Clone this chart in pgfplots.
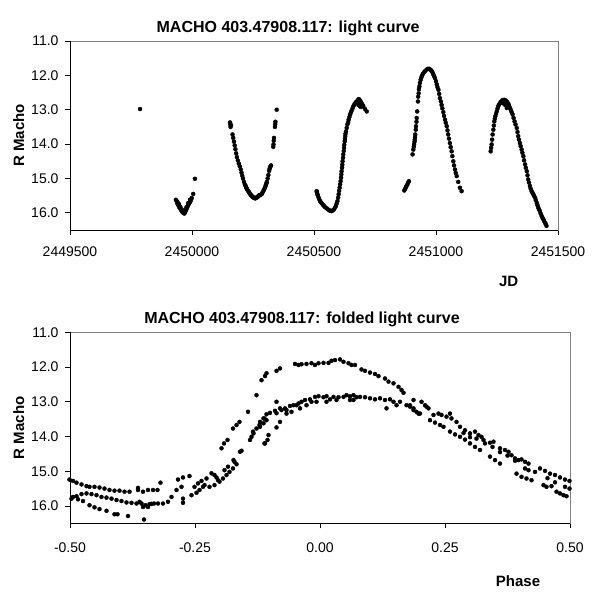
\documentclass[border=0pt]{standalone}
\usepackage{pgfplots}
\usepackage{pgfplotstable}
\pgfplotsset{compat=1.18}
\usepackage{fontspec}
\setmainfont{Liberation Sans}

% top light curve: x = JD - 2449500, y = R Macho
\pgfplotstableread{
jd mag
287 12.98
434 15.62
437 15.66
440 15.72
442 15.76
445 15.79
448 15.84
451 15.87
454 15.90
457 15.94
460 15.97
463 15.99
466 16.01
469 16.02
472 15.98
475 15.93
478 15.88
481 15.83
484 15.78
487 15.74
490 15.71
493 15.67
496 15.62
499 15.57
505 15.45
512 15.01
440 15.68
446 15.74
452 15.82
458 15.90
470 15.95
477 15.84
484 15.72
492 15.62
656 13.37
657 13.43
658 13.50
660 13.45
666 13.72
669 13.82
672 13.93
675 14.04
678 14.15
681 14.27
684 14.38
688 14.48
692 14.57
696 14.65
700 14.74
703 14.83
706 14.92
709 15.00
713 15.10
717 15.18
720 15.22
722 15.26
724 15.29
726 15.32
729 15.35
731 15.37
734 15.40
736 15.43
739 15.46
741 15.48
744 15.50
746 15.52
749 15.54
751 15.55
754 15.56
756 15.57
759 15.58
761 15.57
764 15.56
766 15.55
769 15.54
771 15.52
774 15.50
776 15.49
780 15.48
783 15.47
786 15.45
789 15.41
792 15.37
795 15.33
798 15.28
801 15.23
803 15.18
805 15.14
807 15.10
810 15.00
813 14.90
816 14.78
818 14.72
820 14.68
822 14.64
824 14.62
833 14.08
834 14.01
835 13.90
836 13.82
840 13.50
841 13.42
842 13.35
847 13.00
1011 15.37
1012 15.40
1014 15.46
1016 15.50
1019 15.56
1022 15.61
1025 15.66
1029 15.70
1033 15.73
1037 15.77
1041 15.80
1046 15.84
1052 15.87
1057 15.90
1063 15.93
1068 15.94
1072 15.95
1077 15.93
1082 15.90
1086 15.85
1090 15.80
1093 15.73
1096 15.66
1099 15.56
1101 15.46
1103 15.36
1105 15.27
1107 15.17
1109 15.08
1111 14.98
1112 14.88
1113 14.79
1115 14.69
1116 14.60
1117 14.50
1119 14.40
1120 14.30
1122 14.20
1123 14.11
1124 14.02
1126 13.92
1127 13.85
1128 13.77
1129 13.70
1131 13.63
1134 13.53
1137 13.43
1140 13.36
1142 13.29
1145 13.21
1148 13.14
1151 13.08
1154 13.03
1158 12.96
1161 12.90
1165 12.85
1169 12.81
1173 12.77
1178 12.74
1181 12.71
1184 12.69
1187 12.72
1191 12.76
1194 12.80
1197 12.84
1200 12.87
1202 12.90
1182 12.86
1185 12.83
1188 12.90
1193 12.92
1209 12.98
1216 13.05
1370 15.35
1374 15.30
1377 15.25
1380 15.21
1383 15.17
1386 15.12
1389 15.08
1404 14.30
1407 14.16
1409 14.08
1410 14.01
1412 13.93
1413 13.87
1414 13.80
1415 13.72
1417 13.58
1418 13.48
1420 13.35
1421 13.24
1423 13.05
1426 12.76
1427 12.62
1429 12.52
1430 12.40
1432 12.32
1434 12.22
1437 12.13
1440 12.06
1443 12.00
1447 11.95
1451 11.91
1456 11.87
1462 11.83
1467 11.81
1473 11.81
1478 11.84
1482 11.87
1486 11.92
1489 11.97
1492 12.02
1496 12.08
1500 12.17
1503 12.26
1506 12.34
1510 12.42
1513 12.54
1516 12.66
1520 12.76
1523 12.86
1526 12.96
1530 13.07
1533 13.18
1537 13.29
1540 13.38
1544 13.48
1547 13.60
1550 13.72
1553 13.84
1557 13.97
1560 14.09
1564 14.21
1567 14.35
1571 14.50
1574 14.62
1578 14.74
1581 14.84
1585 14.93
1591 15.10
1598 15.27
1605 15.37
1724 14.21
1726 14.11
1728 14.01
1730 13.87
1732 13.72
1735 13.58
1737 13.46
1739 13.34
1741 13.26
1743 13.19
1746 13.12
1749 13.05
1752 12.97
1755 12.90
1758 12.85
1762 12.81
1766 12.77
1770 12.74
1774 12.72
1779 12.71
1783 12.72
1787 12.74
1791 12.77
1795 12.81
1798 12.85
1800 12.90
1803 12.95
1806 13.00
1810 13.07
1814 13.14
1818 13.24
1822 13.34
1826 13.43
1831 13.53
1834 13.65
1837 13.77
1840 13.87
1844 13.97
1847 14.06
1851 14.16
1854 14.25
1858 14.35
1861 14.47
1865 14.59
1868 14.69
1872 14.79
1875 14.91
1878 15.03
1881 15.12
1885 15.22
1888 15.30
1892 15.37
1895 15.41
1899 15.46
1902 15.51
1906 15.56
1909 15.63
1913 15.71
1916 15.78
1919 15.85
1922 15.90
1926 15.95
1929 16.02
1933 16.09
1936 16.14
1940 16.19
1943 16.24
1947 16.29
1950 16.33
1953 16.38
1773 12.81
1783 12.86
1790 12.95
1778 12.77
}\lightdata

% folded light curve: phase, R Macho
\pgfplotstableread{
phase mag
-0.501 15.24
-0.494 15.28
-0.487 15.33
-0.477 15.38
-0.467 15.43
-0.461 15.45
-0.451 15.45
-0.441 15.47
-0.431 15.50
-0.421 15.54
-0.411 15.56
-0.401 15.56
-0.391 15.59
-0.381 15.59
-0.364 15.54
-0.364 15.48
-0.354 15.59
-0.344 15.54
-0.334 15.54
-0.325 15.54
-0.319 15.33
-0.497 15.79
-0.487 15.72
-0.477 15.66
-0.467 15.64
-0.457 15.66
-0.447 15.69
-0.437 15.74
-0.427 15.76
-0.417 15.79
-0.407 15.83
-0.397 15.86
-0.387 15.90
-0.377 15.91
-0.367 15.93
-0.357 15.93
-0.349 15.98
-0.341 15.95
-0.332 15.93
-0.324 15.93
-0.314 15.93
-0.304 15.88
-0.354 16.03
-0.344 16.03
-0.337 15.94
-0.361 15.88
-0.494 15.74
-0.484 15.81
-0.474 15.86
-0.461 15.98
-0.451 16.04
-0.441 16.09
-0.427 16.14
-0.411 16.24
-0.405 16.24
-0.384 16.29
-0.352 16.39
-0.297 15.74
-0.287 15.54
-0.277 15.45
-0.284 15.24
-0.274 15.18
-0.261 15.14
-0.274 15.91
-0.274 15.79
-0.257 15.69
-0.247 15.62
-0.241 15.54
-0.234 15.45
-0.251 15.45
-0.244 15.35
-0.237 15.28
-0.227 15.21
-0.217 15.06
-0.211 15.11
-0.207 15.18
-0.204 15.26
-0.231 15.40
-0.221 15.45
-0.211 15.40
-0.201 15.30
-0.194 15.21
-0.187 15.11
-0.181 15.02
-0.174 14.92
-0.167 14.80
-0.191 14.97
-0.184 14.87
-0.171 14.73
-0.157 14.41
-0.197 14.34
-0.192 14.20
-0.185 14.10
-0.174 13.77
-0.167 13.67
-0.161 13.58
-0.144 13.29
-0.127 12.81
-0.137 14.01
-0.134 13.86
-0.127 13.77
-0.121 13.67
-0.111 13.48
-0.111 14.20
-0.105 14.10
-0.173 14.68
-0.160 14.44
-0.140 14.10
-0.133 13.91
-0.107 13.53
-0.087 13.33
-0.067 13.24
-0.047 13.10
-0.117 12.38
-0.110 12.26
-0.107 12.18
-0.087 12.11
-0.080 12.04
-0.050 11.91
-0.043 11.94
-0.037 11.92
-0.027 11.91
-0.017 11.89
-0.010 11.94
-0.003 11.89
0.007 11.88
0.017 11.88
0.023 11.82
0.030 11.80
0.040 11.78
0.047 11.85
0.057 11.89
0.063 11.94
0.070 11.94
0.083 12.07
0.090 12.11
0.100 12.16
0.110 12.20
0.117 12.26
0.130 12.33
0.137 12.42
0.147 12.47
0.157 12.57
0.163 12.66
0.167 12.74
-0.120 13.58
-0.113 13.48
-0.107 13.36
-0.100 13.32
-0.090 13.26
-0.080 13.19
-0.070 13.19
-0.060 13.12
-0.053 13.10
-0.043 13.05
-0.037 13.00
-0.030 12.95
-0.020 12.93
-0.017 13.00
-0.010 12.86
-0.003 12.84
0.007 12.87
0.013 12.84
0.020 12.93
0.027 12.86
0.037 12.87
0.047 12.86
0.053 12.81
0.060 12.84
0.067 12.81
0.073 12.87
0.080 12.86
0.090 12.87
0.100 12.90
0.110 12.93
0.120 12.90
0.130 12.95
0.140 12.93
0.147 13.00
0.153 13.10
0.160 13.00
0.173 13.10
0.180 13.14
0.187 13.24
0.197 13.34
-0.087 13.00
-0.077 13.24
-0.067 13.34
-0.057 13.29
-0.040 13.19
-0.027 13.10
-0.007 13.00
0.013 13.00
0.033 12.95
0.060 12.95
0.067 12.95
0.133 13.19
-0.120 13.72
-0.113 13.62
-0.080 13.58
-0.087 13.74
-0.103 13.96
-0.110 14.20
0.187 12.95
0.203 13.00
0.210 13.10
0.213 13.14
0.217 13.19
0.237 13.34
0.243 13.38
0.253 13.43
0.260 13.34
0.263 13.48
0.273 13.58
0.280 13.72
0.290 13.82
0.300 13.91
0.310 13.86
0.317 13.96
0.323 14.01
0.327 14.10
0.340 14.18
0.347 14.15
0.360 14.34
0.370 14.39
0.377 14.44
0.383 14.54
0.390 14.63
0.397 14.68
0.403 14.66
0.410 14.73
0.417 14.78
0.410 14.92
0.417 14.97
0.440 14.92
0.450 14.99
0.460 15.07
0.470 15.11
0.480 15.18
0.490 15.24
0.499 15.28
0.180 13.10
0.187 13.19
0.193 13.29
0.200 13.34
0.220 13.53
0.230 13.60
0.240 13.67
0.247 13.72
0.260 13.86
0.270 13.94
0.280 14.01
0.290 14.09
0.300 14.20
0.310 14.30
0.320 14.39
0.340 14.58
0.350 14.68
0.360 14.78
0.393 15.07
0.403 15.16
0.413 15.21
0.423 15.26
0.447 15.40
0.453 15.45
0.463 15.43
0.473 15.59
0.480 15.64
0.487 15.69
0.493 15.72
0.490 15.45
0.499 15.50
0.227 13.38
0.287 13.90
0.300 14.02
0.313 14.06
0.330 14.20
0.345 14.30
0.360 14.45
0.375 14.55
0.390 14.70
0.430 15.02
0.455 15.20
0.470 15.32
}\foldeddata

\pgfplotsset{
  mcstyle/.style={
    scale only axis,
    y dir=reverse,
    ymin=11, ymax=16.5,
    ytick={11,12,13,14,15,16},
    yticklabel style={/pgf/number format/fixed, /pgf/number format/fixed zerofill, /pgf/number format/precision=1, xshift=-3pt},
    /pgf/number format/assume math mode=true,
    tick align=outside,
    xtick pos=bottom, ytick pos=left,
    major tick length=5pt,
    tick style={black, line width=0.8pt},
    axis line style={draw=gray, line width=1pt},
    ticklabel style={font=\fontsize{14}{16}\selectfont},
    xticklabel style={anchor=base, yshift=-21pt},
    title style={font=\bfseries\fontsize{16}{18}\selectfont, anchor=base},
    label style={font=\bfseries\fontsize{15}{17}\selectfont},
    clip=false,
  },
}

\begin{document}
\begin{tikzpicture}[x=1pt,y=1pt]
\path[use as bounding box] (0,0) rectangle (600,600);

\begin{axis}[mcstyle,
  at={(70pt,370pt)}, anchor=south west,
  width=488pt, height=189pt,
  xmin=0, xmax=2000,
  xtick={0,500,1000,1500,2000},
  xticklabels={2449500,2450000,2450500,2451000,2451500},
  title={MACHO 403.47908.117: light curve},
  title style={at={(axis description cs:0.447,1)}, yshift=3pt},
  xlabel={JD},
  xlabel style={at={(axis description cs:0.899,0)}, anchor=base, yshift=-56.7pt},
  ylabel={R Macho},
  ylabel style={at={(axis description cs:-0.094,0.5)}, anchor=base},
]
\addplot[only marks, mark=*, mark size=2pt, black] table[x=jd, y=mag] {\lightdata};
\draw[black, line width=1pt] (axis description cs:0,1) -- (axis description cs:0,0) -- (axis description cs:1,0);
\end{axis}

\begin{axis}[mcstyle,
  at={(70pt,76.7pt)}, anchor=south west,
  width=500pt, height=191pt,
  xmin=-0.5, xmax=0.5,
  xtick={-0.5,-0.25,0,0.25,0.5},
  xticklabel style={/pgf/number format/fixed, /pgf/number format/fixed zerofill, /pgf/number format/precision=2, yshift=-3pt},
  title={MACHO 403.47908.117: folded light curve},
  title style={at={(axis description cs:0.464,1)}, yshift=3pt},
  xlabel={Phase},
  xlabel style={at={(axis description cs:0.896,0)}, anchor=base, yshift=-62.7pt},
  ylabel={R Macho},
  ylabel style={at={(axis description cs:-0.092,0.5)}, anchor=base},
]
\addplot[only marks, mark=*, mark size=2pt, black] table[x=phase, y=mag] {\foldeddata};
\draw[black, line width=1pt] (axis description cs:0,1) -- (axis description cs:0,0) -- (axis description cs:1,0);
\end{axis}
\end{tikzpicture}
\end{document}
